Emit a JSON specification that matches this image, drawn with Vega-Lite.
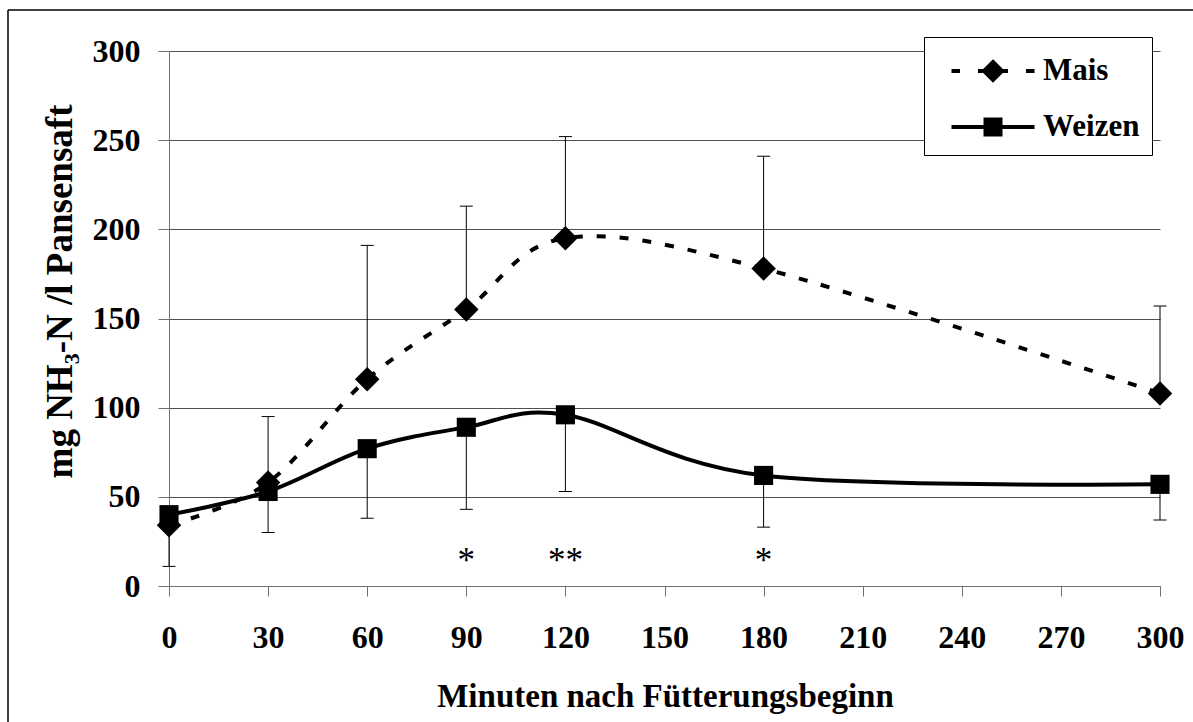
{
  "$schema": "https://vega.github.io/schema/vega-lite/v6.json",
  "width": 1185,
  "height": 712,
  "autosize": {"type": "none"},
  "padding": {"left": 8, "top": 10, "right": 0, "bottom": 0},
  "background": "white",
  "config": {
    "view": {"stroke": "black", "strokeWidth": 1.5, "strokeDash": [1185, 1897, 712, 0]},
    "font": "Liberation Serif",
    "axis": {
      "labelFont": "Liberation Serif",
      "labelFontWeight": "bold",
      "labelFontSize": 32,
      "labelColor": "black",
      "titleFont": "Liberation Serif",
      "titleFontWeight": "bold",
      "titleFontSize": 33,
      "titleColor": "black",
      "domainColor": "#707070",
      "tickColor": "#707070",
      "gridColor": "#505050",
      "domainWidth": 1,
      "tickWidth": 1,
      "gridWidth": 1
    }
  },
  "data": {
    "values": [
      {"minute": 0, "series": "Mais", "value": 34, "bar": null, "sig": null},
      {"minute": 30, "series": "Mais", "value": 58, "bar": 95, "sig": null},
      {"minute": 60, "series": "Mais", "value": 116, "bar": 191, "sig": null},
      {"minute": 90, "series": "Mais", "value": 155, "bar": 213, "sig": null},
      {"minute": 120, "series": "Mais", "value": 195, "bar": 252, "sig": null},
      {"minute": 180, "series": "Mais", "value": 178, "bar": 241, "sig": null},
      {"minute": 300, "series": "Mais", "value": 108, "bar": 157, "sig": null},
      {"minute": 0, "series": "Weizen", "value": 40, "bar": 11, "sig": null},
      {"minute": 30, "series": "Weizen", "value": 53, "bar": 30, "sig": null},
      {"minute": 60, "series": "Weizen", "value": 77, "bar": 38, "sig": null},
      {"minute": 90, "series": "Weizen", "value": 89, "bar": 43, "sig": "*"},
      {"minute": 120, "series": "Weizen", "value": 96, "bar": 53, "sig": "**"},
      {"minute": 180, "series": "Weizen", "value": 62, "bar": 33, "sig": "*"},
      {"minute": 300, "series": "Weizen", "value": 57, "bar": 37, "sig": null}
    ]
  },
  "encoding": {
    "x": {
      "field": "minute",
      "type": "quantitative",
      "scale": {"domain": [0, 300], "range": [161, 1152], "nice": false},
      "axis": {
        "title": "Minuten nach Fütterungsbeginn",
        "values": [0, 30, 60, 90, 120, 150, 180, 210, 240, 270, 300],
        "grid": false,
        "offset": -136,
        "tickSize": 10,
        "labelPadding": 26,
        "labelFlush": false,
        "labelOverlap": false,
        "titleX": 657,
        "titleY": 120,
        "titleBaseline": "alphabetic",
        "titleAlign": "center"
      }
    },
    "y": {
      "field": "value",
      "type": "quantitative",
      "scale": {"domain": [0, 300], "range": [576, 41], "nice": false},
      "axis": {
        "title": "mg NH₃-N /l Pansensaft",
        "values": [0, 50, 100, 150, 200, 250, 300],
        "grid": true,
        "offset": -161,
        "tickSize": 11,
        "labelPadding": 18,
        "labelFlush": false,
        "titleX": -98,
        "titleY": 281,
        "titleAngle": -90,
        "titleFontSize": 37,
        "titleBaseline": "alphabetic",
        "titleAlign": "center"
      }
    }
  },
  "layer": [
    {
      "transform": [{"filter": "datum.bar != null"}],
      "mark": {"type": "rule", "color": "black", "strokeWidth": 1},
      "encoding": {"y2": {"field": "bar"}}
    },
    {
      "transform": [{"filter": "datum.bar != null"}],
      "mark": {"type": "tick", "orient": "horizontal", "color": "black", "size": 13, "thickness": 1, "opacity": 1},
      "encoding": {"y": {"field": "bar", "type": "quantitative"}}
    },
    {
      "transform": [{"filter": "datum.series === 'Mais'"}],
      "mark": {"type": "line", "interpolate": "cardinal", "color": "black", "strokeWidth": 4, "strokeDash": [9, 14]}
    },
    {
      "transform": [{"filter": "datum.series === 'Weizen'"}],
      "mark": {"type": "line", "interpolate": "cardinal", "color": "black", "strokeWidth": 4}
    },
    {
      "transform": [{"filter": "datum.series === 'Mais'"}],
      "mark": {"type": "point", "filled": true, "color": "black", "size": 600, "shape": "M0,-1L1,0L0,1L-1,0Z"},
      "encoding": {
        "opacity": {
          "field": "series",
          "type": "nominal",
          "scale": {"domain": ["Mais", "Weizen"], "range": [1, 1]},
          "legend": {
            "title": null,
            "orient": "none",
            "legendX": 916,
            "legendY": 27,
            "strokeColor": "black",
            "fillColor": "white",
            "padding": 12,
            "symbolSize": 1600,
            "symbolOffset": 35,
            "labelOffset": 28,
            "rowPadding": 17,
            "labelFont": "Liberation Serif",
            "labelFontWeight": "bold",
            "labelFontSize": 31,
            "labelColor": "black",
            "labelBaseline": "middle",
            "symbolStrokeWidth": 4,
            "encoding": {
              "symbols": {
                "shape": {"value": {"expr": "datum.value === 'Mais' ? 'M-2.075,0H-1.65M-0.75,0H0.75M1.65,0H2.075M0,-0.45L0.45,0L0,0.45L-0.45,0Z' : 'M-2.075,0H2.075M-0.375,-0.375H0.375V0.375H-0.375Z'"}},
                "fill": {"value": "black"},
                "stroke": {"value": "black"},
                "strokeWidth": {"value": 4}
              }
            }
          }
        }
      }
    },
    {
      "transform": [{"filter": "datum.series === 'Weizen'"}],
      "mark": {"type": "point", "filled": true, "color": "black", "opacity": 1, "size": 600, "shape": "M-0.78,-0.78H0.78V0.78H-0.78Z"}
    },
    {
      "transform": [{"filter": "datum.sig != null"}],
      "mark": {"type": "text", "font": "Liberation Serif", "fontSize": 35, "baseline": "middle", "align": "center", "color": "black"},
      "encoding": {
        "y": {"datum": 14},
        "text": {"field": "sig", "type": "nominal"}
      }
    }
  ]
}
